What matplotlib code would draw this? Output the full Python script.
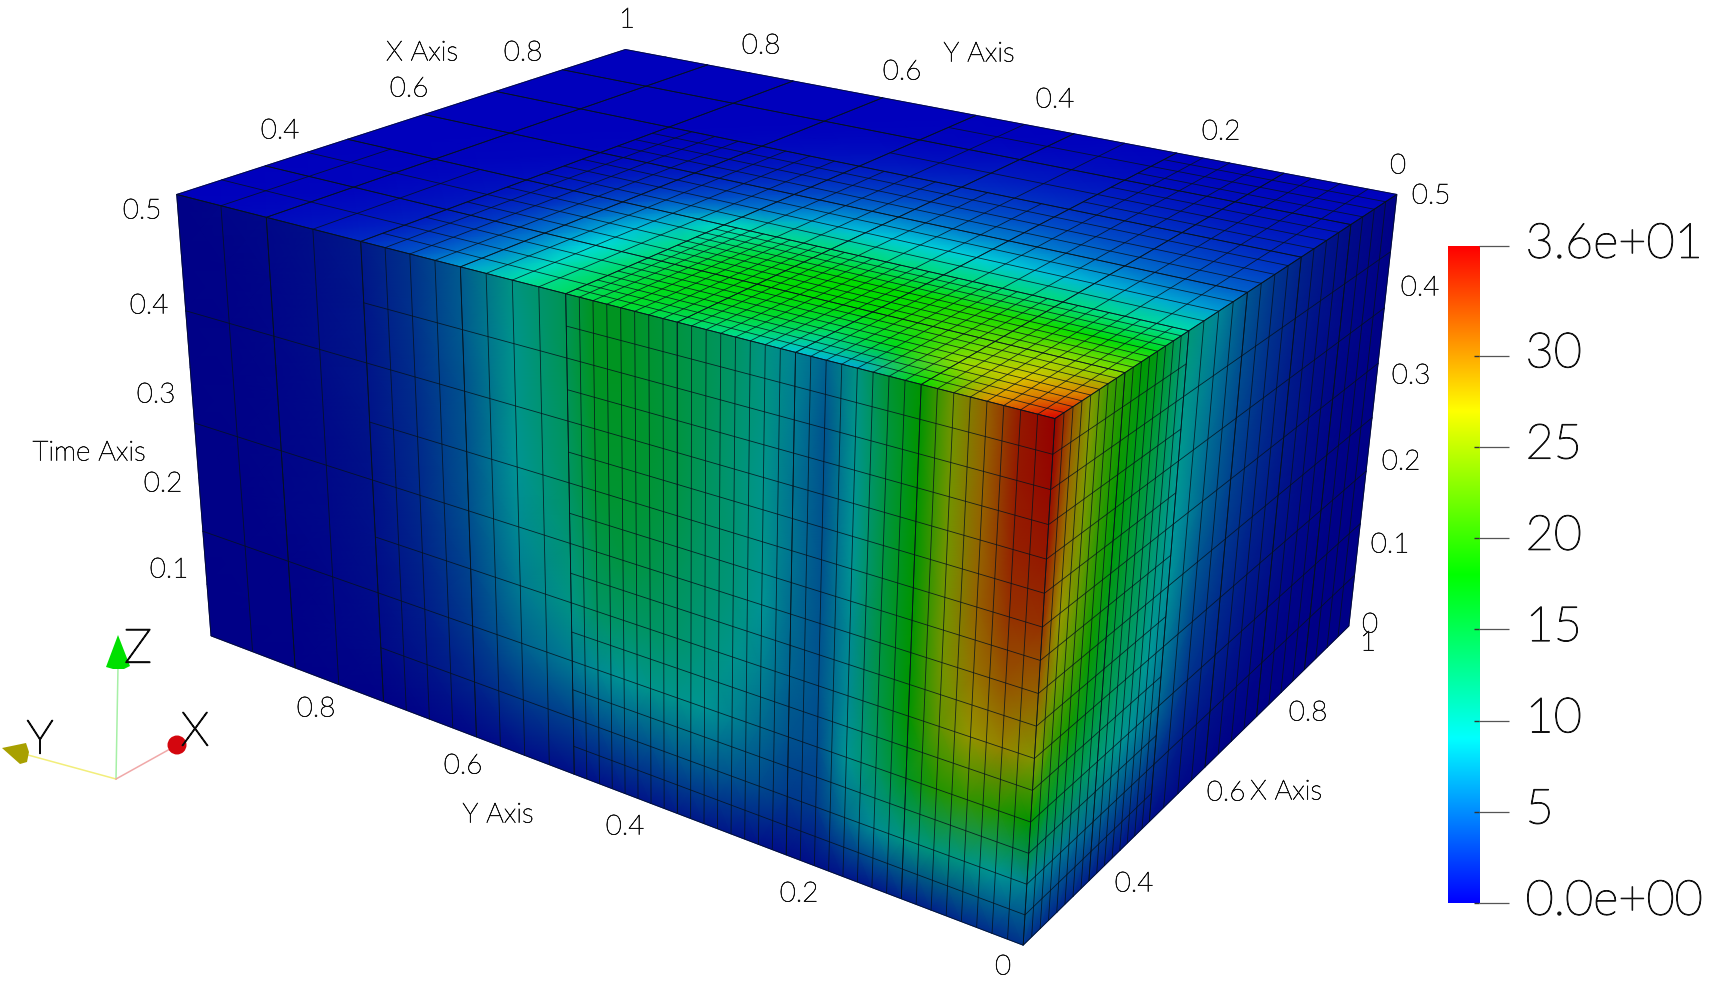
#!/usr/bin/env python3
# Adaptive mesh box over x, y and time with a rainbow colour bar, ParaView style

import numpy as np
import matplotlib
matplotlib.use("Agg")
import matplotlib.pyplot as plt
import matplotlib.patheffects as pe
from matplotlib.collections import LineCollection
from matplotlib.colors import LinearSegmentedColormap, to_rgb
from matplotlib.patches import Circle, Polygon
from matplotlib.transforms import ScaledTranslation

W, H = 1709, 984

# data range of the box
x_min, x_max = 0.25, 1.0
y_min, y_max = 0.0, 1.0
t_min, t_max = 0.0, 0.5
v_max = 36.0

# refinement level of each 1/8 block, rows from y=1 down, columns from x=0.25 up
block_levels = [
    [1, 1, 0, 0, 0, 0],
    [1, 1, 0, 0, 0, 0],
    [2, 2, 2, 2, 0, 0],
    [2, 2, 2, 2, 0, 0],
    [3, 3, 2, 2, 1, 1],
    [3, 3, 2, 2, 1, 1],
    [3, 3, 2, 2, 2, 2],
    [3, 3, 2, 2, 2, 2],
]

# top face values, t=0.5; rows by x, columns by y
top_x = [0.25, 0.3125, 0.375, 0.4375, 0.5, 0.5625, 0.625, 0.6875, 0.75, 0.8125, 0.875, 0.9375, 1.0]
top_y = [0, 0.0625, 0.125, 0.1875, 0.25, 0.3125, 0.375, 0.4375, 0.5, 0.5625, 0.625, 0.6875, 0.75, 0.8125, 0.875, 0.9375, 1.0]
top_values = [
    [36, 30, 18, 7, 8, 12, 14, 16, 14, 11, 6.5, 3.5, 1.8, 0.9, 0.4, 0.2, 0],
    [31, 28, 24, 17, 14, 16, 17, 17, 14, 10, 5.5, 3, 1.3, 0.7, 0.3, 0.1, 0],
    [23, 24, 22, 20, 18, 18, 18, 17, 13, 9, 5, 2.5, 1, 0.5, 0.2, 0.1, 0],
    [17, 18, 19, 19, 18, 18, 17, 15.5, 12, 8, 4.5, 2, 0.8, 0.4, 0.2, 0.1, 0],
    [11, 12, 13, 13, 13, 13, 13, 12, 10, 6, 3.2, 1.5, 0.6, 0.3, 0.1, 0, 0],
    [6.5, 7, 7.5, 8, 8.5, 8.5, 8, 7, 5, 3.3, 2, 1, 0.4, 0.2, 0.1, 0, 0],
    [4, 4.2, 4.6, 5, 5.2, 5.2, 5, 4.2, 3, 2, 1.1, 0.6, 0.2, 0.1, 0, 0, 0],
    [2.6, 2.8, 3, 3.2, 3.3, 3.2, 3, 2.5, 1.8, 1.1, 0.6, 0.3, 0.1, 0, 0, 0, 0],
    [1.6, 1.7, 1.9, 2, 2, 2, 1.8, 1.4, 1, 0.6, 0.3, 0.1, 0, 0, 0, 0, 0],
    [1, 1, 1.1, 1.2, 1.2, 1.1, 1, 0.7, 0.5, 0.3, 0.1, 0, 0, 0, 0, 0, 0],
    [0.5, 0.6, 0.6, 0.7, 0.7, 0.6, 0.5, 0.3, 0.2, 0.1, 0, 0, 0, 0, 0, 0, 0],
    [0.3, 0.3, 0.3, 0.3, 0.3, 0.3, 0.2, 0.1, 0.1, 0, 0, 0, 0, 0, 0, 0, 0],
    [0.1, 0.1, 0.1, 0.1, 0.1, 0.1, 0, 0, 0, 0, 0, 0, 0, 0, 0, 0, 0],
]

# front face values, x=0.25; rows by t, columns by y
front_t = [0.5, 0.4375, 0.375, 0.3125, 0.25, 0.1875, 0.125, 0.0625, 0]
front_y = [0, 0.03125, 0.0625, 0.09375, 0.125, 0.15625, 0.1875, 0.21875, 0.25, 0.28125, 0.3125, 0.34375,
           0.375, 0.40625, 0.4375, 0.46875, 0.5, 0.5625, 0.625, 0.6875, 0.75, 0.8125, 0.875, 0.9375, 1.0]
front_values = [
    [36, 34.5, 30, 25, 18, 15, 10, 6, 8, 10, 12, 13, 14, 15, 16, 16, 13, 10, 5.5, 3, 1.5, 0.9, 0.5, 0.3, 0.1],
    [35.5, 34.5, 30, 25, 18, 14, 9.5, 5, 7.5, 10, 11.5, 13, 14, 15, 16, 16, 13, 9.5, 5.5, 3, 1.4, 0.8, 0.4, 0.2, 0.1],
    [34.5, 34, 30, 25, 18, 14, 9, 5, 7, 9.5, 11, 12.5, 14, 15, 15.5, 15.5, 12.5, 9.5, 5, 2.8, 1.3, 0.8, 0.4, 0.2, 0.1],
    [33, 33, 30, 25, 18, 14, 9, 5, 7, 9.5, 11, 12, 13.5, 14.5, 15, 15, 12, 9, 5, 2.6, 1.2, 0.7, 0.3, 0.2, 0.1],
    [30, 31, 29, 25, 18, 14, 8.5, 5, 6.5, 9, 10.5, 11.5, 12.5, 13.5, 14, 13.5, 11, 8.5, 4.8, 2.5, 1.1, 0.6, 0.3, 0.2, 0.1],
    [26, 28, 27, 24, 18, 13.5, 8.5, 5, 6, 8, 9.5, 10.5, 11.5, 12, 12, 12, 10, 7.5, 4.2, 2.2, 1, 0.5, 0.3, 0.1, 0.1],
    [18, 20, 21, 20, 16, 12, 9, 4.5, 5, 6.5, 8, 9, 9.5, 9.5, 9, 8.5, 7.5, 6, 3.5, 1.8, 0.8, 0.4, 0.2, 0.1, 0.1],
    [8, 9, 10, 10.5, 10, 8.5, 6.5, 3.5, 3.5, 4.5, 5, 5.5, 5.5, 5, 5, 4.5, 4, 3.5, 2.2, 1.2, 0.6, 0.3, 0.1, 0.1, 0],
    [3, 2.8, 2.5, 2, 1.8, 1.4, 1.2, 0.9, 0.8, 1, 1.3, 1.5, 1.5, 1.3, 1.2, 1, 0.9, 0.8, 0.5, 0.3, 0.1, 0.1, 0, 0, 0],
]

# right face values, y=0; rows by t, columns by x
right_t = [0.5, 0.4375, 0.375, 0.3125, 0.25, 0.1875, 0.125, 0.0625, 0]
right_x = [0.25, 0.28125, 0.3125, 0.34375, 0.375, 0.40625, 0.4375, 0.46875, 0.5, 0.5625, 0.625, 0.6875,
           0.75, 0.8125, 0.875, 0.9375, 1.0]
right_values = [
    [36, 31, 26, 22, 20, 18, 17, 14, 11, 8, 5, 3.2, 2, 1.2, 0.7, 0.4, 0.1],
    [35.5, 30, 25.5, 21.5, 19, 17, 15.5, 13, 10, 7, 4.6, 3, 1.8, 1.1, 0.6, 0.3, 0.1],
    [34.5, 29, 25, 21, 18, 16, 14, 12, 9.5, 6.5, 4.2, 2.7, 1.6, 0.9, 0.5, 0.3, 0.1],
    [33, 27, 24, 20, 17, 15, 13, 11, 9, 6, 3.8, 2.4, 1.5, 0.8, 0.4, 0.2, 0.1],
    [30, 25, 22, 18.5, 15.5, 13.5, 12, 10, 8.5, 5, 3.3, 2.1, 1.2, 0.7, 0.3, 0.2, 0.1],
    [26, 21.5, 19, 16, 14, 12, 11, 9, 7.5, 4, 2.6, 1.6, 1, 0.5, 0.3, 0.1, 0],
    [18, 15.5, 14, 12.5, 11, 10, 8.5, 7.5, 6, 3, 1.9, 1.1, 0.6, 0.3, 0.2, 0.1, 0],
    [8, 7.5, 7, 6.5, 6, 5.5, 4.5, 4, 3, 1.6, 1, 0.6, 0.3, 0.2, 0.1, 0, 0],
    [3, 2.6, 2.3, 2, 1.7, 1.5, 1.2, 1, 0.8, 0.5, 0.3, 0.1, 0.1, 0, 0, 0, 0],
]

# axis annotations: text and centre in picture pixels
axis_texts = [
    ("1", 627, 20), ("0.8", 523, 53), ("0.6", 409, 89), ("0.4", 280, 131), ("X Axis", 422, 53),
    ("0.8", 761, 46), ("0.6", 902, 72), ("Y Axis", 979, 54), ("0.4", 1055, 100), ("0.2", 1221, 132), ("0", 1398, 166),
    ("0.5", 142, 211), ("0.4", 149, 306), ("0.3", 156, 395), ("Time Axis", 89, 453), ("0.2", 163, 484), ("0.1", 169, 570),
    ("0.5", 1431, 196), ("0.4", 1420, 288), ("0.3", 1411, 376), ("0.2", 1401, 462), ("0.1", 1390, 545), ("0", 1370, 625),
    ("1", 1368, 643), ("0.8", 1308, 713), ("0.6", 1226, 793), ("X Axis", 1286, 792), ("0.4", 1134, 884), ("0", 1003, 967),
    ("0.8", 316, 709), ("0.6", 463, 766), ("Y Axis", 498, 815), ("0.4", 625, 827), ("0.2", 799, 894),
]

cbar_ticks = [0, 5, 10, 15, 20, 25, 30, 36]
cbar_labels = ["0.0e+00", "5", "10", "15", "20", "25", "30", "3.6e+01"]

rainbow = ["#0000ff", "#00ffff", "#00ff00", "#ffff00", "#ff0000"]
# per face lighting: one factor for the blue end, one for the rest
shade_top = (0.74, 0.86)
shade_front = (0.53, 0.58)
shade_right = (0.53, 0.6)

plt.rcParams["font.family"] = ["Lato", "DejaVu Sans"]


def shaded_cmap(shade):
    cols = []
    for i, h in enumerate(rainbow):
        f = shade[0] if i == 0 else shade[1]
        cols.append(tuple(c * f for c in to_rgb(h)))
    return LinearSegmentedColormap.from_list("rb", cols, N=512)


def thicken(width):
    # Lato Light is too thin on its own, regular is too heavy
    return [pe.withStroke(linewidth=width, foreground="#111111")]


# camera fitted to where the box corners sit in the picture
corner_points = [
    (x_min, y_max, t_max, 176, 196), (x_max, y_max, t_max, 626, 49),
    (x_max, y_min, t_max, 1396, 194), (x_min, y_min, t_max, 1056, 418),
    (x_min, y_max, t_min, 211, 635), (x_min, y_min, t_min, 1023, 945),
    (x_max, y_min, t_min, 1349, 627),
]
rows = []
for cx, cy, ct, u, v in corner_points:
    rows.append([cx, cy, ct, 1, 0, 0, 0, 0, -u * cx, -u * cy, -u * ct, -u])
    rows.append([0, 0, 0, 0, cx, cy, ct, 1, -v * cx, -v * cy, -v * ct, -v])
P = np.linalg.svd(np.array(rows, dtype=float))[2][-1].reshape(3, 4)


def project(x, y, t):
    x, y, t = np.broadcast_arrays(np.asarray(x, float), np.asarray(y, float), np.asarray(t, float))
    pts = np.stack([x, y, t, np.ones_like(x)], axis=-1)
    h = pts @ P.T
    return h[..., 0] / h[..., 2], h[..., 1] / h[..., 2]


fig = plt.figure(figsize=(W / 100, H / 100), dpi=100, facecolor="white")
ax = fig.add_axes([0, 0, 1, 1])
ax.set_xlim(0, W)
ax.set_ylim(H, 0)
ax.axis("off")

# faces
gx, gy = np.meshgrid(top_x, top_y, indexing="ij")
px, py = project(gx, gy, t_max)
ax.pcolormesh(px, py, np.array(top_values), shading="gouraud", cmap=shaded_cmap(shade_top), vmin=0, vmax=v_max)

gt, gy = np.meshgrid(front_t, front_y, indexing="ij")
px, py = project(x_min, gy, gt)
ax.pcolormesh(px, py, np.array(front_values), shading="gouraud", cmap=shaded_cmap(shade_front), vmin=0, vmax=v_max)

gt, gx = np.meshgrid(right_t, right_x, indexing="ij")
px, py = project(gx, y_min, gt)
ax.pcolormesh(px, py, np.array(right_values), shading="gouraud", cmap=shaded_cmap(shade_right), vmin=0, vmax=v_max)


# mesh lines
def seg(a, b):
    return [tuple(float(q) for q in project(*a)), tuple(float(q) for q in project(*b))]


segments = []
block = 0.125
for r, row in enumerate(block_levels):
    y1 = y_max - r * block
    y0 = y1 - block
    for c, level in enumerate(row):
        x0 = x_min + c * block
        x1 = x0 + block
        n = 2 ** level
        for i in range(n + 1):
            segments.append(seg((x0 + i * block / n, y0, t_max), (x0 + i * block / n, y1, t_max)))
            segments.append(seg((x0, y0 + i * block / n, t_max), (x1, y0 + i * block / n, t_max)))
    # front face takes its cells from the first column
    level = row[0]
    n = 2 ** level
    for i in range(n + 1):
        segments.append(seg((x_min, y0 + i * block / n, t_min), (x_min, y0 + i * block / n, t_max)))
    for j in range(int(round((t_max - t_min) * n * 4)) + 1):
        tv = t_min + j / (n * 4)
        segments.append(seg((x_min, y0, tv), (x_min, y1, tv)))

# right face takes its cells from the last row
for c, level in enumerate(block_levels[-1]):
    x0 = x_min + c * block
    x1 = x0 + block
    n = 2 ** level
    for i in range(n + 1):
        segments.append(seg((x0 + i * block / n, y_min, t_min), (x0 + i * block / n, y_min, t_max)))
    for j in range(int(round((t_max - t_min) * n * 4)) + 1):
        tv = t_min + j / (n * 4)
        segments.append(seg((x0, y_min, tv), (x1, y_min, tv)))

ax.add_collection(LineCollection(segments, colors="#06121c", linewidths=0.6, alpha=0.85, zorder=3))

for label, tx, ty in axis_texts:
    ax.text(tx, ty, label, fontsize=20, fontweight="light", color="#111111", ha="center", va="center",
            zorder=5, path_effects=thicken(0.45))

# orientation triad
ox, oy = 116, 779
ax.plot([ox, 118], [oy, 667], color="#a6f0a6", lw=1.1, zorder=4)
ax.plot([ox, 28], [oy, 755], color="#f2ee7a", lw=1.1, zorder=4)
ax.plot([ox, 170], [oy, 749], color="#f0a8a8", lw=1.1, zorder=4)
ax.add_patch(Polygon([(118, 635), (106, 667), (113, 669), (124, 669), (130, 666)], fc="#00e000", ec="none", zorder=5))
ax.add_patch(Polygon([(2, 748), (26, 743), (29, 752), (27, 762), (20, 764)], fc="#a8a000", ec="none", zorder=5))
ax.add_patch(Circle((177, 745), 9.5, fc="#d4060e", ec="none", zorder=5))
for label, tx, ty in [("Z", 138, 650), ("Y", 40, 741), ("X", 195, 733)]:
    ax.text(tx, ty, label, fontsize=34, fontweight="light", color="black", ha="center", va="center",
            zorder=6, path_effects=thicken(1.0))

# colour bar
cax = fig.add_axes([1448 / W, 1 - 903 / H, 31 / W, 657 / H])
grad = np.linspace(0, v_max, 512).reshape(-1, 1)
cax.imshow(grad, origin="lower", aspect="auto", extent=(0, 1, 0, v_max), cmap=shaded_cmap((1.0, 1.0)), vmin=0, vmax=v_max)
cax.hlines(cbar_ticks[:-1], 0.83, 1.0, color="#333333", lw=1.0, clip_on=False)
cax.set_xticks([])
cax.set_yticks(cbar_ticks, cbar_labels)
cax.yaxis.tick_right()
cax.tick_params(axis="y", direction="out", length=21.5, width=0.9, color="#555555", pad=12, labelsize=35)
for lbl in cax.get_yticklabels():
    lbl.set_color("#111111")
    lbl.set_fontweight("light")
    lbl.set_path_effects(thicken(0.8))
    lbl.set_transform(lbl.get_transform() + ScaledTranslation(0, 4.5 / 72, fig.dpi_scale_trans))
for s in cax.spines.values():
    s.set_visible(False)

fig.savefig("out.png", dpi=100)
